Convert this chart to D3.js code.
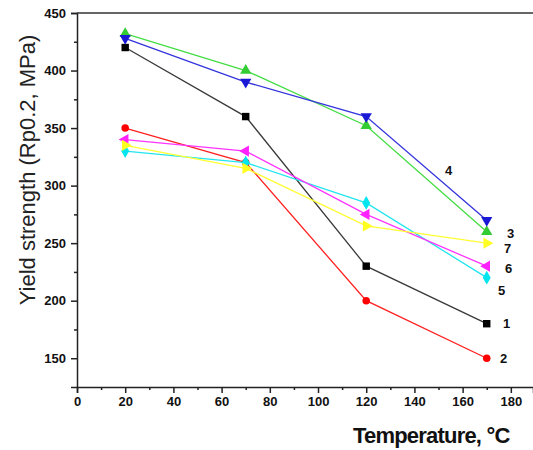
<!DOCTYPE html>
<html>
<head>
<meta charset="utf-8">
<script src="https://cdn.jsdelivr.net/npm/d3@7"></script>
<style>
  body { margin: 0; background: #fff; }
  .tick text { font-family: "Liberation Sans", Arial, sans-serif; font-weight: bold; font-size: 13px; }
</style>
</head>
<body>
<div id="chart"></div>
<script>
// Temperatures (x) and yield strength per specimen (MPa)
const temps = [20, 70, 120, 170];
const seriesNames = ["1", "2", "3", "4", "5", "6", "7"];
const s1 = [420, 360, 230, 180];
const s2 = [350, 320, 200, 150];
const s3 = [432, 400, 352, 260];
const s4 = [428, 390, 360, 270];
const s5 = [330, 320, 285, 220];
const s6 = [340, 330, 275, 230];
const s7 = [335, 315, 265, 250];
const xTicks = [0, 20, 40, 60, 80, 100, 120, 140, 160, 180];
const yTicks = [150, 200, 250, 300, 350, 400, 450];

const width = 533, height = 450;
const margin = {top: 13, right: 0, bottom: 63, left: 77};

const svg = d3.select("#chart")
  .append("svg")
  .attr("width", width)
  .attr("height", height);

const x = d3.scaleLinear().domain([0, 189.2]).range([margin.left, width - margin.right]);
const y = d3.scaleLinear().domain([125, 450]).range([height - margin.bottom, margin.top]);

// minor ticks
const xMinor = d3.range(10, 190, 20);
const yMinor = [175, 225, 275, 325, 375, 425];

// Bottom axis
const xAxis = svg.append("g")
  .attr("transform", `translate(0,${y(125)})`)
  .call(d3.axisBottom(x).tickValues(xTicks).tickSize(6).tickPadding(4).tickFormat(d3.format("d")));
xAxis.selectAll("path, line").attr("stroke", "#222").attr("stroke-width", 1.5);
xAxis.selectAll("text").attr("fill", "#111");
svg.append("g")
  .attr("transform", `translate(0,${y(125)})`)
  .call(d3.axisBottom(x).tickValues(xMinor).tickSize(3).tickFormat(""))
  .call(g => g.select(".domain").remove())
  .selectAll("line").attr("stroke", "#222").attr("stroke-width", 1.5);

// Left axis
const yAxis = svg.append("g")
  .attr("transform", `translate(${x(0)},0)`)
  .call(d3.axisLeft(y).tickValues(yTicks).tickSize(6).tickPadding(5));
yAxis.selectAll("path, line").attr("stroke", "#222").attr("stroke-width", 1.5);
yAxis.selectAll("text").attr("fill", "#111");
svg.append("g")
  .attr("transform", `translate(${x(0)},0)`)
  .call(d3.axisLeft(y).tickValues(yMinor).tickSize(3).tickFormat(""))
  .call(g => g.select(".domain").remove())
  .selectAll("line").attr("stroke", "#222").attr("stroke-width", 1.5);

// Top frame line
svg.append("line")
  .attr("x1", x(0)).attr("x2", width)
  .attr("y1", y(450)).attr("y2", y(450))
  .attr("stroke", "#333").attr("stroke-width", 1.5);

// Axis titles
svg.append("text")
  .attr("x", 353).attr("y", 443)
  .attr("font-family", "Liberation Sans, Arial, sans-serif")
  .attr("font-weight", "bold")
  .attr("font-size", 22)
  .attr("letter-spacing", -0.8)
  .attr("fill", "#111")
  .text("Temperature, °C");

svg.append("text")
  .attr("transform", `translate(35,170) rotate(-90)`)
  .attr("text-anchor", "middle")
  .attr("font-family", "Liberation Sans, Arial, sans-serif")
  .attr("font-size", 22)
  .attr("fill", "#222")
  .text("Yield strength (Rp0.2, MPa)");

// Series
const series = [
  {name: "1", values: s1, line: "#3a3a3a", fill: "#000", symbol: d3.symbolSquare, rot: 0, lx: 503, ly: 323},
  {name: "2", values: s2, line: "#ff2020", fill: "#ff0000", symbol: d3.symbolCircle, rot: 0, lx: 500, ly: 358},
  {name: "3", values: s3, line: "#44dd44", fill: "#33cc33", symbol: d3.symbolTriangle, rot: 0, lx: 507, ly: 233},
  {name: "4", values: s4, line: "#3333dd", fill: "#1a1ad6", symbol: d3.symbolTriangle, rot: 180, lx: 445, ly: 170},
  {name: "5", values: s5, line: "#22e5ee", fill: "#00e5f0", symbol: d3.symbolDiamond, rot: 0, lx: 498, ly: 290},
  {name: "6", values: s6, line: "#ff33ff", fill: "#ff22ff", symbol: d3.symbolTriangle, rot: -90, lx: 505, ly: 268},
  {name: "7", values: s7, line: "#ffff33", fill: "#ffff22", symbol: d3.symbolTriangle, rot: 90, lx: 504, ly: 248}
];

const line = d3.line().x((d, i) => x(temps[i])).y(d => y(d));

series.forEach(s => {
  svg.append("path")
    .datum(s.values)
    .attr("fill", "none")
    .attr("stroke", s.line)
    .attr("stroke-width", 1.3)
    .attr("d", line);

  svg.selectAll(null)
    .data(s.values)
    .enter()
    .append("path")
    .attr("d", d3.symbol().type(s.symbol).size(s.symbol === d3.symbolCircle ? 45 : 55))
    .attr("transform", (d, i) => `translate(${x(temps[i])},${y(d)}) rotate(${s.rot})`)
    .attr("fill", s.fill);

  svg.append("text")
    .attr("x", s.lx).attr("y", s.ly)
    .attr("dy", "0.35em")
    .attr("font-family", "Liberation Sans, Arial, sans-serif")
    .attr("font-weight", "bold")
    .attr("font-size", 13)
    .attr("fill", "#111")
    .text(s.name);
});
</script>
</body>
</html>
